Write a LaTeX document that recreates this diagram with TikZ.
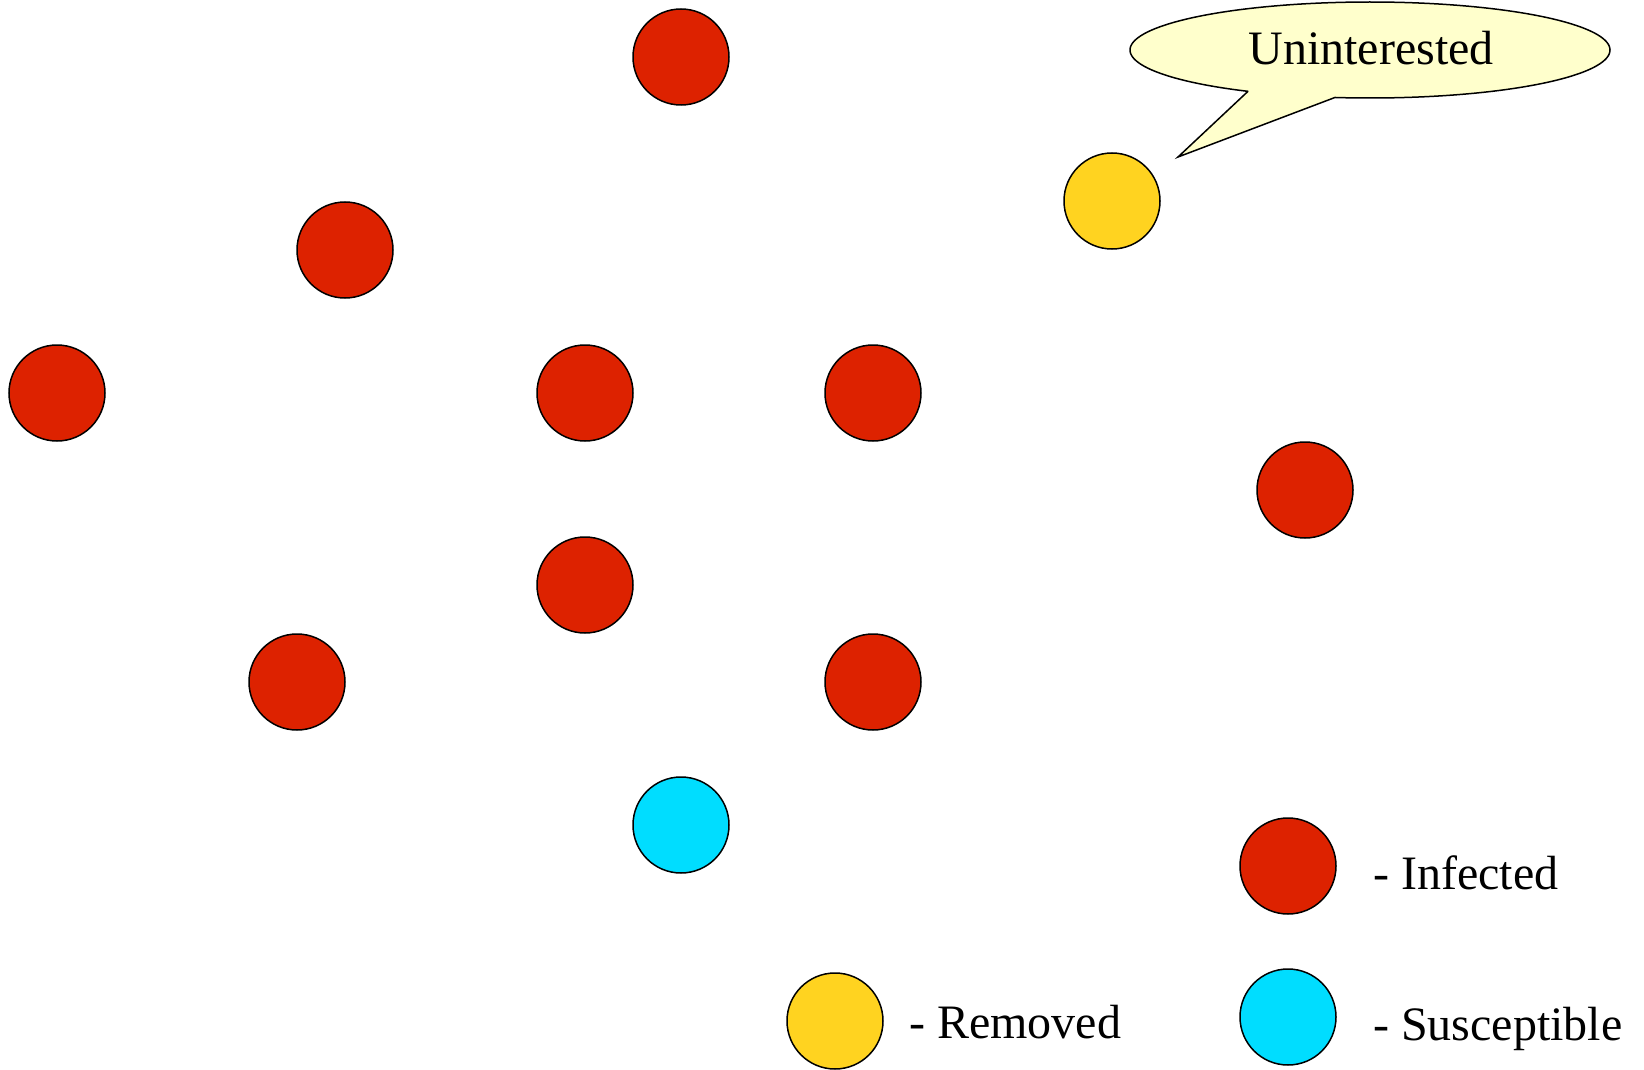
\documentclass[tikz,border=0pt]{standalone}
\usepackage{fontspec}
\setmainfont{Liberation Serif}
\definecolor{infred}{HTML}{DD2200}
\definecolor{remyel}{HTML}{FFD320}
\definecolor{suscyan}{HTML}{00DDFF}
\definecolor{calloutfill}{HTML}{FFFFCC}
\tikzset{
  dot/.style={circle, draw=black, line width=1.5pt, minimum size=96pt, inner sep=0pt},
  inf/.style={dot, fill=infred},
  rem/.style={dot, fill=remyel},
  sus/.style={dot, fill=suscyan},
  lbl/.style={anchor=base west, inner sep=0pt, font=\fontsize{48}{52}\selectfont},
}
\begin{document}
\begin{tikzpicture}[x=1pt,y=-1pt]
\useasboundingbox[fill=white] (0,0) rectangle (1644,1070);
% callout
\draw[line width=1.5pt, fill=calloutfill, line join=miter]
  (1178,157) -- (1248,91.3)
  -- plot[domain=120.5:458.4, samples=200, smooth] ({1370+240*cos(\x)},{50+48*sin(\x)})
  -- cycle;
\node[lbl, anchor=base] (ctext) at (1371,65) {Uninterested};
% nodes
\node[inf] (n1) at (681,57) {};
\node[rem] (n2) at (1112,201) {};
\node[inf] (n3) at (345,250) {};
\node[inf] (n4) at (57,393) {};
\node[inf] (n5) at (585,393) {};
\node[inf] (n6) at (873,393) {};
\node[inf] (n7) at (1305,490) {};
\node[inf] (n8) at (585,585) {};
\node[inf] (n9) at (297,682) {};
\node[inf] (n10) at (873,682) {};
\node[sus] (n11) at (681,825) {};
% legend
\node[inf] (li) at (1288,866) {};
\node[rem] (lr) at (835,1021) {};
\node[sus] (ls) at (1288,1017) {};
\node[lbl] (ti) at (1373,889) {- Infected};
\node[lbl] (tr) at (909,1038) {- Removed};
\node[lbl] (ts) at (1373,1040) {- Susceptible};
\end{tikzpicture}
\end{document}
